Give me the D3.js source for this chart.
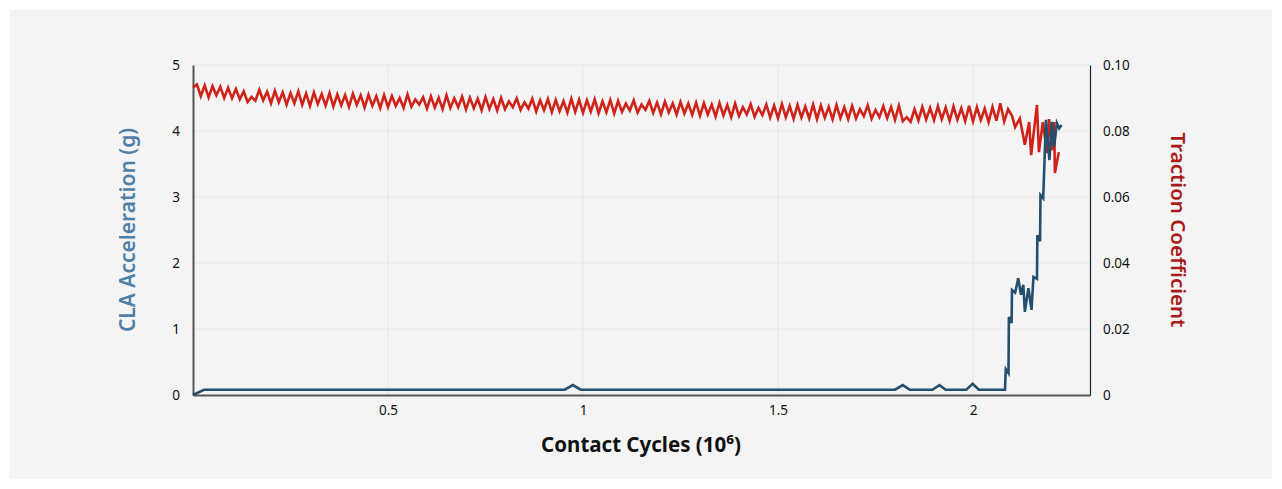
<!DOCTYPE html>
<html>
<head>
<meta charset="utf-8">
<script src="https://cdn.jsdelivr.net/npm/d3@7/dist/d3.min.js"></script>
<style>
  html, body { margin: 0; padding: 0; background: #ffffff; }
  svg { display: block; font-family: "Noto Sans", "Open Sans", sans-serif; }
</style>
</head>
<body>
<svg id="chart" width="1282" height="489"></svg>
<script>
// Traction coefficient samples (cycles in millions)
const tractionCycles = [
  0.00, 0.01, 0.02, 0.03, 0.04, 0.05, 0.06, 0.07, 0.08, 0.09,
  0.10, 0.11, 0.12, 0.13, 0.14, 0.15, 0.16, 0.17, 0.18, 0.19,
  0.20, 0.21, 0.22, 0.23, 0.24, 0.25, 0.26, 0.27, 0.28, 0.29,
  0.30, 0.31, 0.32, 0.33, 0.34, 0.35, 0.36, 0.37, 0.38, 0.39,
  0.40, 0.41, 0.42, 0.43, 0.44, 0.45, 0.46, 0.47, 0.48, 0.49,
  0.50, 0.51, 0.52, 0.53, 0.54, 0.55, 0.56, 0.57, 0.58, 0.59,
  0.60, 0.61, 0.62, 0.63, 0.64, 0.65, 0.66, 0.67, 0.68, 0.69,
  0.70, 0.71, 0.72, 0.73, 0.74, 0.75, 0.76, 0.77, 0.78, 0.79,
  0.80, 0.81, 0.82, 0.83, 0.84, 0.85, 0.86, 0.87, 0.88, 0.89,
  0.90, 0.91, 0.92, 0.93, 0.94, 0.95, 0.96, 0.97, 0.98, 0.99,
  1.00, 1.01, 1.02, 1.03, 1.04, 1.05, 1.06, 1.07, 1.08, 1.09,
  1.10, 1.11, 1.12, 1.13, 1.14, 1.15, 1.16, 1.17, 1.18, 1.19,
  1.20, 1.21, 1.22, 1.23, 1.24, 1.25, 1.26, 1.27, 1.28, 1.29,
  1.30, 1.31, 1.32, 1.33, 1.34, 1.35, 1.36, 1.37, 1.38, 1.39,
  1.40, 1.41, 1.42, 1.43, 1.44, 1.45, 1.46, 1.47, 1.48, 1.49,
  1.50, 1.51, 1.52, 1.53, 1.54, 1.55, 1.56, 1.57, 1.58, 1.59,
  1.60, 1.61, 1.62, 1.63, 1.64, 1.65, 1.66, 1.67, 1.68, 1.69,
  1.70, 1.71, 1.72, 1.73, 1.74, 1.75, 1.76, 1.77, 1.78, 1.79,
  1.80, 1.81, 1.82, 1.83, 1.84, 1.85, 1.86, 1.87, 1.88, 1.89,
  1.90, 1.91, 1.92, 1.93, 1.94, 1.95, 1.96, 1.97, 1.98, 1.99,
  2.00, 2.01, 2.02, 2.03, 2.04, 2.05, 2.06, 2.07, 2.08, 2.09,
  2.100, 2.108, 2.120, 2.133, 2.144, 2.149, 2.164, 2.169, 2.179, 2.190,
  2.195, 2.203, 2.208, 2.210, 2.220
];
const tractionValues = [
  0.0932, 0.0941, 0.0906, 0.0938, 0.0902, 0.0936, 0.0908, 0.0934, 0.0900, 0.0931,
  0.0899, 0.0927, 0.0896, 0.0920, 0.0888, 0.0903, 0.0892, 0.0925, 0.0893, 0.0919,
  0.0884, 0.0922, 0.0887, 0.0917, 0.0880, 0.0915, 0.0884, 0.0920, 0.0879, 0.0914,
  0.0876, 0.0917, 0.0882, 0.0912, 0.0877, 0.0915, 0.0874, 0.0911, 0.0878, 0.0909,
  0.0873, 0.0913, 0.0879, 0.0908, 0.0871, 0.0910, 0.0876, 0.0905, 0.0870, 0.0909,
  0.0872, 0.0906, 0.0876, 0.0900, 0.0870, 0.0911, 0.0874, 0.0896, 0.0880, 0.0902,
  0.0868, 0.0905, 0.0871, 0.0901, 0.0866, 0.0908, 0.0870, 0.0899, 0.0872, 0.0904,
  0.0865, 0.0901, 0.0869, 0.0898, 0.0863, 0.0903, 0.0867, 0.0897, 0.0862, 0.0900,
  0.0866, 0.0890, 0.0872, 0.0899, 0.0864, 0.0887, 0.0868, 0.0898, 0.0859, 0.0893,
  0.0863, 0.0897, 0.0857, 0.0894, 0.0860, 0.0891, 0.0856, 0.0898, 0.0858, 0.0895,
  0.0855, 0.0893, 0.0859, 0.0896, 0.0854, 0.0890, 0.0857, 0.0894, 0.0853, 0.0891,
  0.0858, 0.0883, 0.0862, 0.0893, 0.0856, 0.0880, 0.0864, 0.0891, 0.0855, 0.0886,
  0.0851, 0.0889, 0.0856, 0.0884, 0.0850, 0.0888, 0.0853, 0.0883, 0.0849, 0.0886,
  0.0846, 0.0884, 0.0850, 0.0880, 0.0844, 0.0885, 0.0847, 0.0879, 0.0842, 0.0883,
  0.0845, 0.0872, 0.0850, 0.0881, 0.0843, 0.0870, 0.0848, 0.0880, 0.0841, 0.0877,
  0.0839, 0.0882, 0.0842, 0.0876, 0.0837, 0.0879, 0.0841, 0.0874, 0.0838, 0.0880,
  0.0836, 0.0877, 0.0840, 0.0873, 0.0835, 0.0879, 0.0839, 0.0872, 0.0836, 0.0876,
  0.0838, 0.0866, 0.0845, 0.0878, 0.0837, 0.0864, 0.0842, 0.0875, 0.0839, 0.0873,
  0.0834, 0.0877, 0.0830, 0.0842, 0.0828, 0.0866, 0.0832, 0.0873, 0.0835, 0.0870,
  0.0833, 0.0875, 0.0836, 0.0871, 0.0831, 0.0874, 0.0834, 0.0869, 0.0830, 0.0876,
  0.0829, 0.0872, 0.0833, 0.0868, 0.0827, 0.0873, 0.0831, 0.0884, 0.0829, 0.0866,
  0.0846, 0.0812, 0.0838, 0.0758, 0.0827, 0.0727, 0.0879, 0.0736, 0.0827, 0.0733,
  0.0836, 0.0742, 0.0827, 0.0673, 0.0736
];

// CLA acceleration samples (g)
const accelCycles = [
  0.000, 0.028, 0.953, 0.974, 0.994, 1.800, 1.820, 1.838, 1.896, 1.914,
  1.930, 1.983, 1.999, 2.015, 2.082, 2.084, 2.091, 2.092, 2.099, 2.100,
  2.108, 2.116, 2.123, 2.129, 2.133, 2.142, 2.150, 2.155, 2.164, 2.165,
  2.172, 2.173, 2.180, 2.187, 2.196, 2.202, 2.208, 2.215, 2.221, 2.227
];
const accelValues = [
  0.00, 0.08, 0.08, 0.15, 0.08, 0.08, 0.15, 0.08, 0.08, 0.15,
  0.08, 0.08, 0.17, 0.08, 0.08, 0.39, 0.33, 1.18, 1.09, 1.59,
  1.55, 1.77, 1.52, 1.67, 1.26, 1.62, 1.29, 1.79, 1.76, 2.42,
  2.33, 3.03, 2.98, 4.17, 3.56, 4.14, 3.76, 4.12, 4.04, 4.09
];

// Axis ticks
const xTicks = [0.5, 1, 1.5, 2];
const xTickLabels = ["0.5", "1", "1.5", "2"];
const accelTicks = [0, 1, 2, 3, 4, 5];
const tractionTicks = [0, 0.02, 0.04, 0.06, 0.08, 0.10];
const tractionTickLabels = ["0", "0.02", "0.04", "0.06", "0.08", "0.10"];

const W = 1282, H = 489;
const plot = { left: 193, right: 1090, top: 65, bottom: 395 };

const svg = d3.select("#chart");

// panel background
svg.append("rect")
  .attr("x", 10).attr("y", 10)
  .attr("width", W - 20).attr("height", H - 20)
  .attr("fill", "#f4f4f4");

const x = d3.scaleLinear().domain([0, 2.3]).range([plot.left, plot.right]);
const yAccel = d3.scaleLinear().domain([0, 5]).range([plot.bottom, plot.top]);
const yTraction = d3.scaleLinear().domain([0, 0.10]).range([plot.bottom, plot.top]);

// grid
const grid = svg.append("g").attr("stroke", "#e6e6e6").attr("stroke-width", 1);
grid.selectAll("line.h").data(accelTicks.filter(d => d > 0)).join("line")
  .attr("class", "h")
  .attr("x1", plot.left).attr("x2", plot.right)
  .attr("y1", d => yAccel(d)).attr("y2", d => yAccel(d));
grid.selectAll("line.v").data(xTicks).join("line")
  .attr("class", "v")
  .attr("x1", d => x(d)).attr("x2", d => x(d))
  .attr("y1", plot.top).attr("y2", plot.bottom);

// axes
const tickFont = g => g.selectAll("text")
  .attr("font-size", 13.5).attr("fill", "#111")
  .attr("font-family", "\"Noto Sans\", sans-serif");

const xAxis = svg.append("g")
  .attr("transform", `translate(0,${plot.bottom})`)
  .call(d3.axisBottom(x).tickValues(xTicks)
    .tickFormat((d, i) => xTickLabels[i]).tickSize(0).tickPadding(10));
xAxis.select(".domain").attr("stroke", "#555").attr("stroke-width", 2);
tickFont(xAxis);

const leftAxis = svg.append("g")
  .attr("transform", `translate(${plot.left},0)`)
  .call(d3.axisLeft(yAccel).tickValues(accelTicks)
    .tickFormat(d3.format("d")).tickSize(0).tickPadding(13));
leftAxis.select(".domain").attr("stroke", "#555").attr("stroke-width", 2);
tickFont(leftAxis);

const rightAxis = svg.append("g")
  .attr("transform", `translate(${plot.right},0)`)
  .call(d3.axisRight(yTraction).tickValues(tractionTicks)
    .tickFormat((d, i) => tractionTickLabels[i]).tickSize(0).tickPadding(13));
rightAxis.select(".domain").attr("stroke", "#222").attr("stroke-width", 1.2);
tickFont(rightAxis);

// series
const tractionData = tractionCycles.map((c, i) => [c, tractionValues[i]]);
const accelData = accelCycles.map((c, i) => [c, accelValues[i]]);

svg.append("path")
  .datum(tractionData)
  .attr("fill", "none")
  .attr("stroke", "#cf2219")
  .attr("stroke-width", 2.6)
  .attr("stroke-linejoin", "miter")
  .attr("d", d3.line().x(d => x(d[0])).y(d => yTraction(d[1])));

svg.append("path")
  .datum(accelData)
  .attr("fill", "none")
  .attr("stroke", "#244f6d")
  .attr("stroke-width", 2.6)
  .attr("stroke-linejoin", "miter")
  .attr("d", d3.line().x(d => x(d[0])).y(d => yAccel(d[1])));

// axis titles
svg.append("text")
  .attr("transform", `translate(135,${(plot.top + plot.bottom) / 2}) rotate(-90)`)
  .attr("text-anchor", "middle")
  .attr("font-size", 21).attr("font-weight", 600)
  .attr("fill", "#4f80a8")
  .text("CLA Acceleration (g)");

svg.append("text")
  .attr("transform", `translate(1171,${(plot.top + plot.bottom) / 2}) rotate(90)`)
  .attr("text-anchor", "middle")
  .attr("font-size", 20.5).attr("font-weight", 600)
  .attr("fill", "#a81b1b")
  .text("Traction Coefficient");

svg.append("text")
  .attr("x", 641)
  .attr("y", 452)
  .attr("text-anchor", "middle")
  .attr("font-size", 20.5).attr("font-weight", 700)
  .attr("fill", "#111")
  .text("Contact Cycles (10⁶)");
</script>
</body>
</html>
